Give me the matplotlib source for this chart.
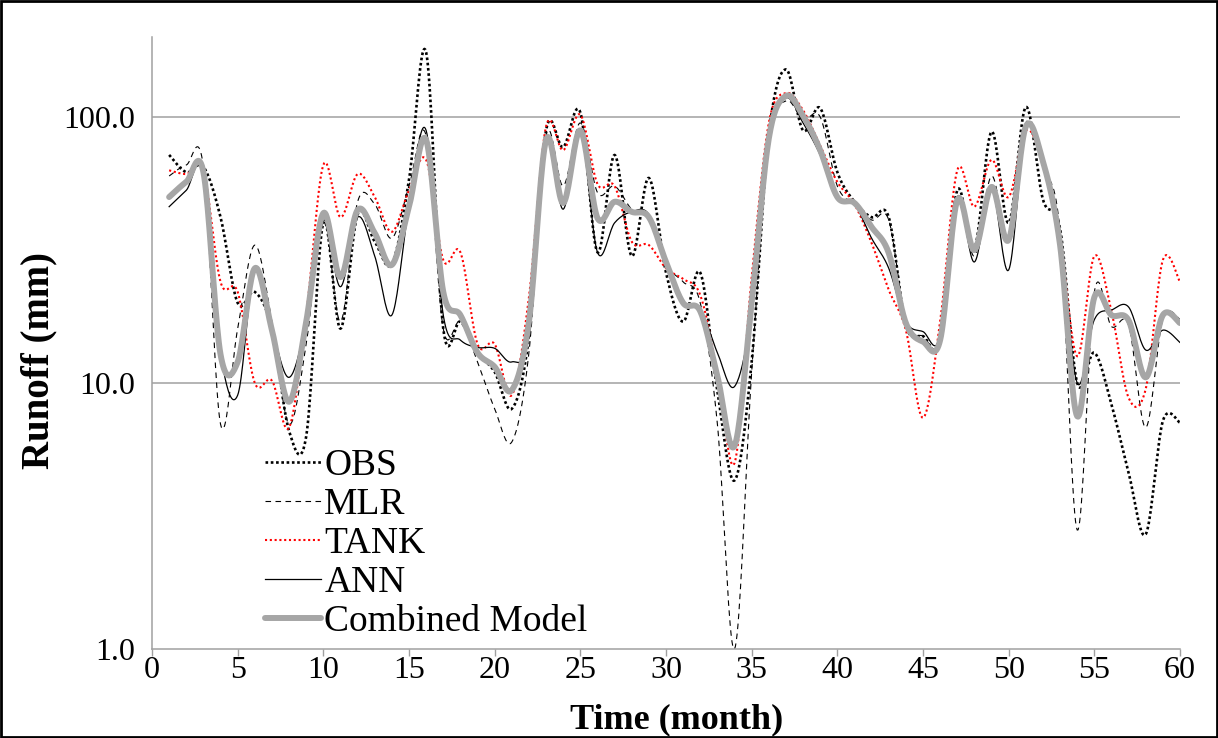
"""
Monthly runoff: observed vs. MLR / TANK / ANN / combined model (log scale)
"""

import matplotlib
matplotlib.use('Agg')
import matplotlib.pyplot as plt
import numpy as np
from matplotlib.patches import Rectangle
from matplotlib.ticker import FixedLocator, FuncFormatter

plt.rcParams['font.family'] = ['Liberation Serif', 'DejaVu Serif']

months = list(range(1, 61))

obs = [72, 62, 65, 42, 20, 22, 16, 6.6, 6.3, 40,
       16, 43, 34, 28, 58, 175, 16, 17, 13, 11,
       8, 15, 89, 77, 104, 31, 72, 30, 59, 26,
       17, 26, 9.3, 4.3, 12, 86, 151, 89, 108, 62,
       48, 42, 42, 16.5, 15, 14.5, 53, 32, 88, 40,
       109, 49, 38, 10, 13, 8.3, 4.6, 2.7, 7.2, 7.1]

mlr = [60, 66, 65, 7.0, 16, 33, 17, 7.0, 14, 42,
       17, 48, 47, 35, 55, 85, 16, 17, 12, 8,
       6, 13, 85, 55, 95, 52, 55, 45, 42, 28,
       24, 20, 7, 1.0, 11, 80, 115, 98, 100, 55,
       47, 41, 41, 17, 15, 14.5, 50, 30, 60, 35,
       95, 65, 37, 2.8, 22, 16.3, 16.5, 6.8, 17.4, 17.4]

tank = [63, 61, 63, 24, 22, 10, 10.2, 6.8, 18, 66,
        42, 61, 50, 37, 53, 69, 29, 31, 14, 14,
        9, 21, 92, 75, 102, 56, 55, 34, 33, 27,
        24.6, 21.4, 11, 5.0, 25, 95, 123, 106, 78, 57,
        47, 33.6, 22.4, 15.8, 7.4, 17, 63, 46, 69, 50,
        89, 67, 35, 12.6, 30, 18.6, 8.8, 9.5, 29, 24]

ann = [46, 53, 62, 13, 9, 27, 16, 10.5, 17, 40,
       23, 42, 30, 18, 46, 89, 18, 14.5, 13.6, 13.5,
       12, 15, 79, 45, 88, 31, 40, 44, 43, 28,
       20, 19, 13, 9.7, 18.6, 83, 118, 95, 72, 50,
       47, 35, 27, 17, 15.6, 14.9, 48, 28.5, 54, 26.6,
       90, 67, 35, 10, 17.3, 18.8, 19.3, 13.3, 15.8, 14.2]

combined = [50, 57, 62, 12.8, 12, 27, 15.8, 8.5, 17, 43.5,
            25, 44.7, 36.6, 27.8, 46, 82, 22, 18, 13, 11.5,
            9.4, 17, 82, 47.5, 89, 41.7, 48, 44, 42, 28.5,
            20, 18.6, 10.6, 5.8, 20, 83, 120, 101, 75, 50,
            47.5, 38.6, 30.8, 16.8, 14.3, 14.5, 48.7, 31.6, 54.6, 34.5,
            92, 68, 33, 7.5, 21, 18, 17.2, 10.5, 18, 16.8]

x_ticks = list(range(0, 61, 5))
y_ticks = [1, 10, 100]


def smooth(x, y, n=20):
    """Excel-style smoothed line (Catmull-Rom in log space)"""
    x = np.asarray(x, float)
    ly = np.log10(np.asarray(y, float))
    xs, ys = [], []
    for i in range(len(x) - 1):
        i0, i3 = max(i - 1, 0), min(i + 2, len(x) - 1)
        p0, p1, p2, p3 = (np.array([x[k], ly[k]]) for k in (i0, i, i + 1, i3))
        c1 = p1 + (p2 - p0) / 6
        c2 = p2 - (p3 - p1) / 6
        t = np.linspace(0, 1, n, endpoint=(i == len(x) - 2))[:, None]
        pts = ((1 - t) ** 3 * p1 + 3 * (1 - t) ** 2 * t * c1
               + 3 * (1 - t) * t ** 2 * c2 + t ** 3 * p2)
        xs.append(pts[:, 0])
        ys.append(pts[:, 1])
    return np.concatenate(xs), 10 ** np.concatenate(ys)


fig = plt.figure(figsize=(12.18, 7.38), dpi=100)
ax = fig.add_axes([0.1248, 0.1206, 0.844, 0.8294])

series = [
    ('OBS', obs, dict(color='black', lw=1.9, ls=(0, (1, 1)))),
    ('MLR', mlr, dict(color='black', lw=0.8, ls=(0, (5, 4)))),
    ('TANK', tank, dict(color='#FF0000', lw=1.5, ls=(0, (1, 1.3)))),
    ('ANN', ann, dict(color='black', lw=0.9, ls='-')),
    ('Combined Model', combined, dict(color='#A6A6A6', lw=4.3, ls='-',
                                      solid_capstyle='round')),
]
for name, vals, style in series:
    sx, sy = smooth(months, vals)
    ax.plot(sx, sy, label=name, **style)

ax.set_yscale('log')
ax.set_xlim(0, 60)
ax.set_ylim(1, 200)

ax.xaxis.set_major_locator(FixedLocator(x_ticks))
ax.yaxis.set_major_locator(FixedLocator(y_ticks))
ax.yaxis.set_minor_locator(FixedLocator([]))
ax.yaxis.set_major_formatter(FuncFormatter(lambda v, _: f'{v:.1f}'))

ax.tick_params(axis='x', length=5, width=1, color='#A0A0A0', pad=0, labelsize=23)
ax.tick_params(axis='y', length=0, pad=12, labelsize=23)

for g in [10, 100]:
    ax.axhline(g, color='#A0A0A0', lw=1.1, zorder=0)

for side in ['top', 'right']:
    ax.spines[side].set_visible(False)
for side in ['left', 'bottom']:
    ax.spines[side].set_color('#A0A0A0')
    ax.spines[side].set_linewidth(1.1)

ax.set_xlabel('Time (month)', fontsize=26, fontweight='bold')
ax.set_ylabel('Runoff (mm)', fontsize=28, fontweight='bold')
ax.xaxis.set_label_coords(0.51, -0.088)
ax.yaxis.set_label_coords(-0.092, 0.472)

ax.legend(loc='upper left', bbox_to_anchor=(0.110, 0.327), frameon=False,
          fontsize=27, handlelength=1.5, handletextpad=0.08,
          labelspacing=0.12, borderpad=0, borderaxespad=0)

# outer frame round the whole picture
fig.patches.append(Rectangle((0.001, 0.001), 0.998, 0.997, transform=fig.transFigure,
                             fill=False, edgecolor='black', lw=2))

fig.savefig('out.png', dpi=100)
plt.close(fig)
